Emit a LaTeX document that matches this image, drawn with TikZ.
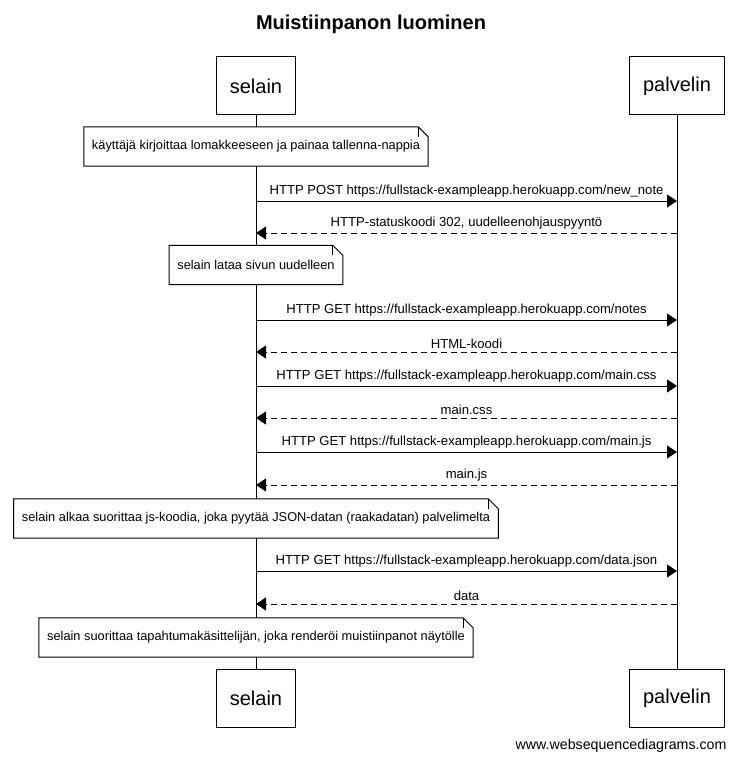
\documentclass[tikz,border=0pt]{standalone}
\usepackage{fontspec}
\setmainfont{Liberation Sans}
\usetikzlibrary{calc,arrows.meta}
\def\notefold(#1){\draw[line width=1pt] (#1.north west) -- ($(#1.north east)+(-10,0)$) -- ($(#1.north east)+(0,10)$) -- (#1.south east) -- (#1.south west) -- cycle;
	\draw[line width=1pt] ($(#1.north east)+(-10,0)$) -- ++(0,10);}

\begin{document}
\begin{tikzpicture}[x=1pt, y=-1pt,
	actor/.style={draw, line width=1pt, fill=white, font=\fontsize{20}{24}\selectfont, minimum height=58pt, inner xsep=13.5pt},
	note/.style={fill=white, font=\fontsize{12.8}{15}\selectfont, minimum height=39pt, inner xsep=8pt},
	req/.style={line width=1pt, -{Triangle[length=10pt,width=13pt]}},
	resp/.style={req, dash pattern=on 6pt off 4pt},
	lbl/.style={font=\fontsize{13.1}{15}\selectfont, above=1pt, inner sep=2pt}]
	%%%%% START %%%%%
	\useasboundingbox (0,0) rectangle (739,762);
	
	\node[font=\bfseries\fontsize{20}{24}\selectfont] (title) at (371,24) {Muistiinpanon luominen};
	
	\node[actor] (selTop) at (256,86) {selain};
	\node[actor] (palTop) at (677,86) {palvelin};
	\node[actor] (selBot) at (256,698.5) {selain};
	\node[actor] (palBot) at (677,698.5) {palvelin};
	
	\draw[line width=1pt] (selTop) -- (selBot);
	\draw[line width=1pt] (palTop) -- (palBot);
	\node[actor] at (selTop) {selain};
	\node[actor] at (palTop) {palvelin};
	\node[actor] at (selBot) {selain};
	\node[actor] at (palBot) {palvelin};
	
	\node[note] (n1) at (selTop |- 0,146.5) {käyttäjä kirjoittaa lomakkeeseen ja painaa tallenna-nappia};
	\notefold(n1)
	
	\draw[req] (selTop |- 0,201) -- (palTop |- 0,201) node[lbl, midway] {HTTP POST https://fullstack-exampleapp.herokuapp.com/new\_note};
	\draw[resp] (palTop |- 0,233) -- (selTop |- 0,233) node[lbl, midway] {HTTP-statuskoodi 302, uudelleenohjauspyyntö};
	
	\node[note] (n2) at (selTop |- 0,265) {selain lataa sivun uudelleen};
	\notefold(n2)
	
	\draw[req] (selTop |- 0,320) -- (palTop |- 0,320) node[lbl, midway] {HTTP GET https://fullstack-exampleapp.herokuapp.com/notes};
	\draw[resp] (palTop |- 0,352) -- (selTop |- 0,352) node[lbl, midway] {HTML-koodi};
	\draw[req] (selTop |- 0,386) -- (palTop |- 0,386) node[lbl, midway] {HTTP GET https://fullstack-exampleapp.herokuapp.com/main.css};
	\draw[resp] (palTop |- 0,418) -- (selTop |- 0,418) node[lbl, midway] {main.css};
	\draw[req] (selTop |- 0,452) -- (palTop |- 0,452) node[lbl, midway] {HTTP GET https://fullstack-exampleapp.herokuapp.com/main.js};
	\draw[resp] (palTop |- 0,485) -- (selTop |- 0,485) node[lbl, midway] {main.js};
	
	\node[note] (n3) at (selTop |- 0,518.5) {selain alkaa suorittaa js-koodia, joka pyytää JSON-datan (raakadatan) palvelimelta};
	\notefold(n3)
	
	\draw[req] (selTop |- 0,571) -- (palTop |- 0,571) node[lbl, midway] {HTTP GET https://fullstack-exampleapp.herokuapp.com/data.json};
	\draw[resp] (palTop |- 0,604) -- (selTop |- 0,604) node[lbl, midway] {data};
	
	\node[note] (n4) at (selTop |- 0,637.5) {selain suorittaa tapahtumakäsittelijän, joka renderöi muistiinpanot näytölle};
	\notefold(n4)
	
	\node[anchor=east, font=\fontsize{14.2}{17}\selectfont] (site) at (730,746) {www.websequencediagrams.com};
	%%%%% END %%%%%
\end{tikzpicture}
\end{document}
